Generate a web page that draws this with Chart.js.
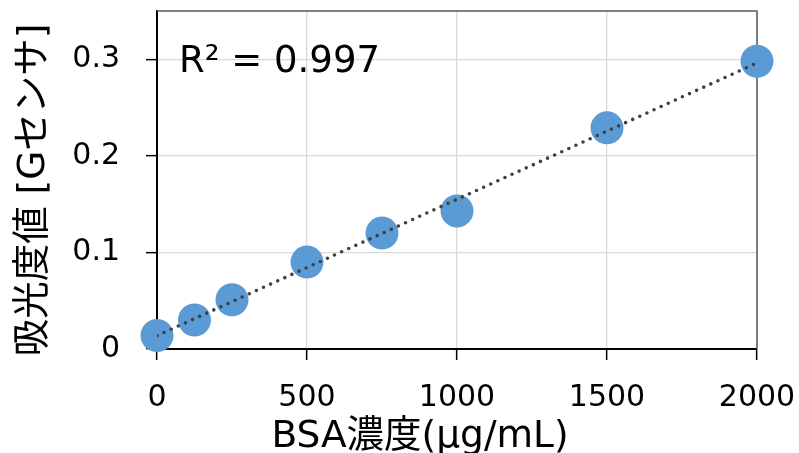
<!DOCTYPE html>
<html>
<head>
<meta charset="utf-8">
<script src="https://cdn.jsdelivr.net/npm/chart.js@4/dist/chart.umd.min.js"></script>
<style>
  html, body { margin: 0; padding: 0; background: #fff; }
  #wrap { width: 799px; height: 453px; }
</style>
</head>
<body>
<div id="wrap"><canvas id="c" width="799" height="453"></canvas></div>
<script>
// ---- data ----
const concentrations = [0, 125, 250, 500, 750, 1000, 1500, 2000];
const absorbance = [0.014, 0.030, 0.051, 0.090, 0.120, 0.143, 0.229, 0.298];
const xTickValues = [0, 500, 1000, 1500, 2000];
const yTickValues = [0, 0.1, 0.2, 0.3];
const rSquaredLabel = 'R² = 0.997';
const xTitle = 'BSA濃度(μg/mL)';
const yTitle = '吸光度値 [Gセンサ]';

// linear regression (trendline) derived from the data
function regression(xs, ys) {
  const n = xs.length;
  const mx = xs.reduce((a, b) => a + b, 0) / n;
  const my = ys.reduce((a, b) => a + b, 0) / n;
  let sxy = 0, sxx = 0;
  for (let i = 0; i < n; i++) { sxy += (xs[i] - mx) * (ys[i] - my); sxx += (xs[i] - mx) ** 2; }
  const m = sxy / sxx;
  return { m, b: my - m * mx };
}
const fit = regression(concentrations, absorbance);
const xMin = xTickValues[0], xMax = xTickValues[xTickValues.length - 1];
const trend = [xMin, xMax].map(x => ({ x, y: fit.b + fit.m * x }));

const points = concentrations.map((x, i) => ({ x, y: absorbance[i] }));

const LATIN = '"DejaVu Sans", "Noto Sans CJK JP", sans-serif';

const decorations = {
  id: 'decorations',
  beforeDatasetsDraw(chart) {
    const { ctx, chartArea: a } = chart;
    ctx.save();
    ctx.strokeStyle = '#595959';
    ctx.lineWidth = 1.5;
    ctx.beginPath();
    ctx.moveTo(a.left, a.top);
    ctx.lineTo(a.right, a.top);
    ctx.lineTo(a.right, a.bottom);
    ctx.stroke();
    ctx.restore();
  },
  afterDraw(chart) {
    const { ctx } = chart;
    ctx.save();
    ctx.fillStyle = '#000';
    ctx.textBaseline = 'alphabetic';
    ctx.textAlign = 'left';
    ctx.font = '37px ' + LATIN;
    ctx.fillText(rSquaredLabel, 179, 72);

    ctx.font = '37.5px ' + LATIN;
    ctx.textAlign = 'center';
    ctx.fillText(xTitle, 420, 447);

    ctx.translate(34, 190);
    ctx.rotate(-Math.PI / 2);
    ctx.textBaseline = 'middle';
    ctx.font = '37.5px ' + LATIN;
    ctx.fillText(yTitle, 0, 0);
    ctx.restore();
  }
};

const plainNumber = v => String(v);

new Chart(document.getElementById('c'), {
  type: 'scatter',
  data: {
    datasets: [
      {
        type: 'line',
        data: trend,
        borderColor: '#404040',
        borderWidth: 3.6,
        borderDash: [0, 7.8],
        borderCapStyle: 'round',
        pointRadius: 0,
        fill: false,
        order: 0
      },
      {
        data: points,
        backgroundColor: '#5b9bd5',
        borderWidth: 0,
        pointRadius: 16.5,
        clip: false,
        order: 1
      }
    ]
  },
  options: {
    responsive: false,
    animation: false,
    events: [],
    layout: { autoPadding: false, padding: { top: 11, right: 42, left: 0, bottom: 0 } },
    plugins: { legend: { display: false }, tooltip: { enabled: false } },
    scales: {
      x: {
        type: 'linear',
        min: xMin,
        max: xMax,
        afterBuildTicks: s => { s.ticks = xTickValues.map(v => ({ value: v })); },
        afterFit: s => { s.height = 104; s.paddingLeft = 0; s.paddingRight = 0; },
        grid: { color: '#d9d9d9', lineWidth: 1.3, tickColor: '#000', tickLength: 11, tickWidth: 1.5 },
        border: { color: '#000', width: 2 },
        ticks: { color: '#000', font: { family: LATIN, size: 30 }, padding: 20, maxRotation: 0, callback: plainNumber }
      },
      y: {
        type: 'linear',
        min: 0,
        max: 0.35,
        afterBuildTicks: s => { s.ticks = yTickValues.map(v => ({ value: v })); },
        afterFit: s => { s.width = 157; s.paddingTop = 0; s.paddingBottom = 0; },
        grid: { color: '#d9d9d9', lineWidth: 1.3, tickColor: '#000', tickLength: 11, tickWidth: 1.5 },
        border: { color: '#000', width: 2 },
        ticks: { color: '#000', font: { family: LATIN, size: 30 }, padding: 26, callback: plainNumber }
      }
    }
  },
  plugins: [decorations]
});
</script>
</body>
</html>
